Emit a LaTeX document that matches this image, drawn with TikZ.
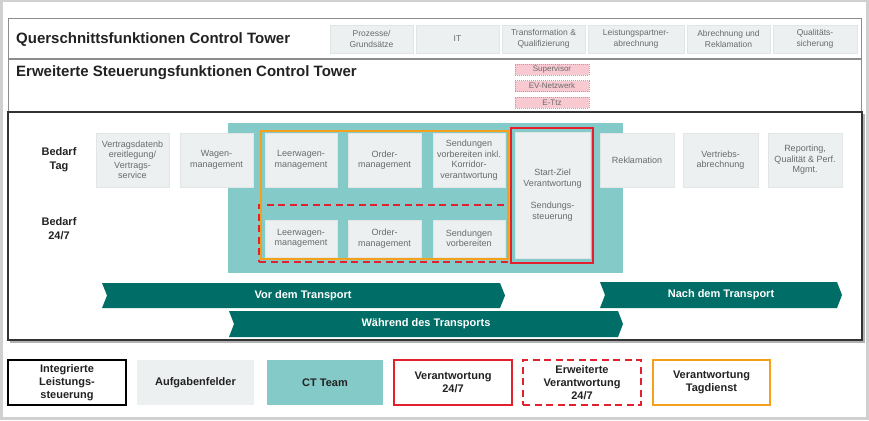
\documentclass[tikz,border=0pt]{standalone}
\usepackage{fontspec}
\setmainfont{Liberation Sans}
\definecolor{boxgray}{HTML}{EDF0F1}
\definecolor{boxline}{HTML}{E1E5E6}
\definecolor{ctteal}{HTML}{84CAC8}
\definecolor{darkteal}{HTML}{006E67}
\definecolor{vred}{HTML}{E3202D}
\definecolor{vorange}{HTML}{F5A01A}
\definecolor{pinkfill}{HTML}{F8C9D1}
\definecolor{txtgray}{HTML}{6A6A6A}
\definecolor{outergray}{HTML}{D0D0D0}
\definecolor{framegray}{HTML}{8C8C8C}
\definecolor{darktxt}{HTML}{222222}
\newcommand\cbox[7][]{\node[#1, anchor=north west, minimum width={#4-#2}, minimum height={#5-#3}] (#6) at (#2,#3) {#7};}
\tikzset{
  task/.style={fill=boxgray, draw=boxline, line width=0.8pt, align=center, inner sep=1pt, outer sep=0pt, text=txtgray, font=\fontsize{9}{10.5}\selectfont},
  toptask/.style={task, font=\fontsize{8.5}{10.5}\selectfont},
  pinkbox/.style={fill=pinkfill, draw=gray!70, dash pattern=on 1pt off 1pt, line width=0.5pt, inner sep=0pt, outer sep=0pt, text=txtgray, font=\fontsize{8}{9}\selectfont},
  frame/.style={draw=framegray, line width=1pt, inner sep=0pt, outer sep=0pt},
  mainframe/.style={draw=black!80, line width=2pt, inner sep=0pt, outer sep=0pt},
  title/.style={anchor=west, inner sep=0pt, text=darktxt, font=\fontsize{15}{18}\selectfont\bfseries},
  rowlabel/.style={align=center, inner sep=0pt, text=darktxt, font=\fontsize{11}{14}\selectfont\bfseries},
  chevtext/.style={inner sep=0pt, text=white, font=\fontsize{11}{13}\selectfont\bfseries},
  legend/.style={align=center, inner sep=1pt, outer sep=0pt, text=darktxt, font=\fontsize{11}{13}\selectfont\bfseries},
  redsolid/.style={draw=vred, line width=1.6pt, inner sep=0pt, outer sep=0pt},
  reddash/.style={draw=vred, line width=1.6pt, dash pattern=on 7pt off 4.5pt, inner sep=0pt, outer sep=0pt},
  orangebox/.style={draw=vorange, line width=2pt, inner sep=0pt, outer sep=0pt},
  chev/.style={fill=darkteal},
}
\begin{document}
\begin{tikzpicture}[x=1pt,y=-1pt]
\useasboundingbox (0,0) rectangle (869,420);
\fill[outergray] (0,0) rectangle (869,420);
\fill[white] (2.5,2.5) rectangle (865.5,416.5);

% top section
\cbox[frame]{8}{19}{861}{59}{qrow}{}
\cbox[frame]{8}{59}{861}{112}{erow}{}
\node[title] (qtitle) at (16,40) {Querschnittsfunktionen Control Tower};
\node[title] (etitle) at (16,73) {Erweiterte Steuerungsfunktionen Control Tower};

\cbox[toptask]{330}{25}{413}{53}{q1}{Prozesse/\\Grundsätze}
\cbox[toptask]{416}{25}{499}{53}{q2}{IT}
\cbox[toptask]{502}{25}{585}{53}{q3}{Transformation \&\\Qualifizierung}
\cbox[toptask]{588}{25}{684}{53}{q4}{Leistungspartner-\\abrechnung}
\cbox[toptask]{687}{25}{770}{53}{q5}{Abrechnung und\\Reklamation}
\cbox[toptask]{773}{25}{857}{53}{q6}{Qualitäts-\\sicherung}

\cbox[pinkbox]{515}{64}{589}{75}{sup}{Supervisor}
\cbox[pinkbox]{515}{80.5}{589}{91.5}{evn}{EV-Netzwerk}
\cbox[pinkbox]{515}{97}{589}{108}{ett}{E-Ttz}

% main section
\draw[gray!60, line width=1.5pt] (10,342) -- (864,342) -- (864,114);
\cbox[mainframe]{8}{112}{862}{340}{main}{}
\cbox[fill=ctteal, inner sep=0pt, outer sep=0pt]{228}{123}{623}{273}{ctarea}{}

\node[rowlabel] (btag) at (59,160) {Bedarf\\Tag};
\node[rowlabel] (b247) at (59,229) {Bedarf\\24/7};

\cbox[task]{96}{133}{169}{187}{vd}{Vertragsdatenb\\ereitlegung/\\Vertrags-\\service}
\cbox[task]{180}{133}{253}{187}{wm}{Wagen-\\management}
\cbox[task]{265}{133}{337}{187}{lwa}{Leerwagen-\\management}
\cbox[task]{348}{133}{421}{187}{oma}{Order-\\management}
\cbox[task]{433}{133}{505}{187}{sva}{Sendungen\\vorbereiten inkl.\\Korridor-\\verantwortung}
\cbox[task]{600}{133}{674}{187}{rk}{Reklamation}
\cbox[task]{683}{133}{758}{187}{va}{Vertriebs-\\abrechnung}
\cbox[task]{768}{133}{842}{187}{rp}{Reporting,\\Qualität \& Perf.\\Mgmt.}

\cbox[task]{265}{220}{337}{257}{lwb}{Leerwagen-\\management}
\cbox[task]{348}{220}{421}{257}{omb}{Order-\\management}
\cbox[task]{433}{220}{505}{257}{svb}{Sendungen\\vorbereiten}

\cbox[task]{515}{132}{590}{258}{sz}{Start-Ziel\\Verantwortung\\[12pt]Sendungs-\\steuerung}
\cbox[redsolid]{511}{128}{593}{263}{szframe}{}
\cbox[reddash]{259}{205}{508}{262}{dashframe}{}
\cbox[orangebox]{261}{131}{508}{259}{orframe}{}

% phase chevrons
\fill[chev] (102,283) -- (500,283) -- (505,295.5) -- (500,308) -- (102,308) -- (107,295.5) -- cycle;
\node[chevtext] (vor) at (303,295.5) {Vor dem Transport};
\fill[chev] (600,282) -- (837,282) -- (842,295) -- (837,308) -- (600,308) -- (605,295) -- cycle;
\node[chevtext] (nach) at (721,295) {Nach dem Transport};
\fill[chev] (229,311) -- (618,311) -- (623,324) -- (618,337) -- (229,337) -- (234,324) -- cycle;
\node[chevtext] (waehrend) at (426,324) {Während des Transports};

% legend
\cbox[legend, draw=black, line width=1.5pt]{8}{360}{126}{405}{l1}{Integrierte\\Leistungs-\\steuerung}
\cbox[legend, fill=boxgray]{137}{360}{254}{405}{l2}{Aufgabenfelder}
\cbox[legend, fill=ctteal]{267}{360}{383}{405}{l3}{CT Team}
\cbox[legend, draw=vred, line width=1.5pt]{394}{360}{512}{405}{l4}{Verantwortung\\24/7}
\cbox[legend, draw=vred, line width=1.5pt, dash pattern=on 7pt off 4.5pt]{523}{360}{641}{405}{l5}{Erweiterte\\Verantwortung\\24/7}
\cbox[legend, draw=vorange, line width=1.5pt]{653}{360}{770}{405}{l6}{Verantwortung\\Tagdienst}
\end{tikzpicture}
\end{document}
